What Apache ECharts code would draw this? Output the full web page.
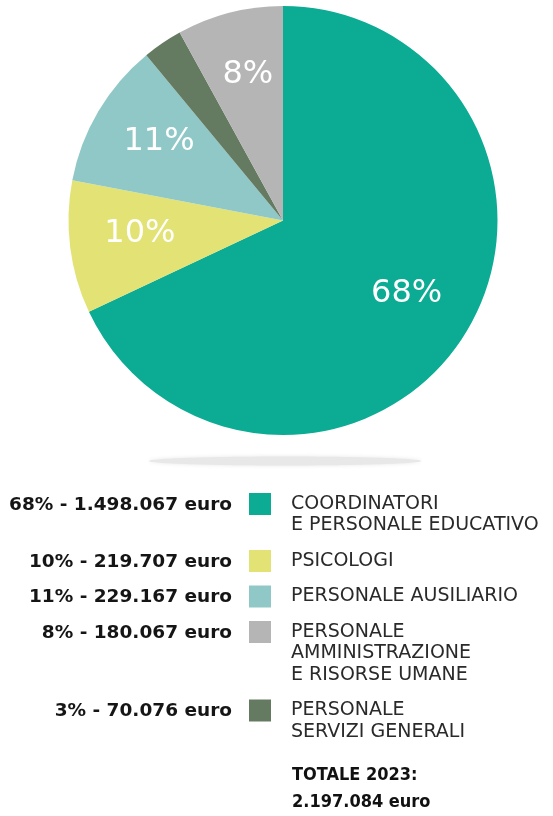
<!DOCTYPE html>
<html>
<head>
<meta charset="utf-8">
<script src="https://cdn.jsdelivr.net/npm/echarts@6/dist/echarts.min.js"></script>
<style>
  html, body { margin: 0; padding: 0; background: #fff; }
  #chart { width: 553px; height: 816px; }
</style>
</head>
<body>
<div id="chart"></div>
<script>
// voci di spesa, in senso orario partendo dall'alto
const categories = [
  "COORDINATORI\nE PERSONALE EDUCATIVO",
  "PSICOLOGI",
  "PERSONALE AUSILIARIO",
  "PERSONALE\nSERVIZI GENERALI",
  "PERSONALE\nAMMINISTRAZIONE\nE RISORSE UMANE"
];
const percentages = [68, 10, 11, 3, 8];
const amounts = ["1.498.067", "219.707", "229.167", "70.076", "180.067"];
const colors = ["#0bab94", "#e2e374", "#8fc8c6", "#647a61", "#b5b5b5"];
// ordine delle righe in legenda
const legendOrder = [0, 1, 2, 4, 3];
const totalLabel = "TOTALE 2023:";
const totalValue = "2.197.084 euro";

const chart = echarts.init(document.getElementById("chart"));

const pieData = categories.map((name, i) => ({
  name: name,
  value: percentages[i],
  itemStyle: { color: colors[i] }
}));

// legenda costruita a mano: importo a sinistra, quadratino, descrizione
const graphics = [
  {
    type: "ellipse",
    shape: { cx: 285, cy: 461, rx: 136, ry: 4.5 },
    style: { fill: "#e8e8e8", shadowBlur: 4, shadowColor: "#e8e8e8" },
    silent: true
  }
];
const lineH = 21.5;
let rowY = 504;
legendOrder.forEach((idx) => {
  const lines = categories[idx].split("\n").length;
  graphics.push({
    type: "text",
    x: 232,
    y: rowY + 1,
    style: {
      text: percentages[idx] + "% - " + amounts[idx] + " euro",
      align: "right",
      verticalAlign: "middle",
      fill: "#151515",
      font: "bold 18.5px 'DejaVu Sans', sans-serif"
    }
  });
  graphics.push({
    type: "rect",
    shape: { x: 249, y: rowY - 11, width: 22, height: 22 },
    style: { fill: colors[idx] }
  });
  graphics.push({
    type: "text",
    x: 291,
    y: rowY - lineH / 2,
    style: {
      text: categories[idx],
      align: "left",
      verticalAlign: "top",
      lineHeight: lineH,
      fill: "#2a2a2a",
      font: "normal 19px 'DejaVu Sans', sans-serif"
    }
  });
  rowY += lines * lineH + 14;
});
graphics.push({
  type: "text",
  x: 292,
  y: 762,
  style: {
    text: totalLabel + "\n" + totalValue,
    align: "left",
    verticalAlign: "top",
    lineHeight: 27,
    fill: "#111",
    font: "bold 18px 'DejaVu Sans Condensed', 'Liberation Sans Narrow', sans-serif"
  }
});

chart.setOption({
  animation: false,
  graphic: graphics,
  series: [
    {
      type: "pie",
      center: [283, 220.5],
      radius: [0, 214.5],
      startAngle: 90,
      clockwise: true,
      silent: true,
      label: { show: false },
      labelLine: { show: false },
      data: pieData
    },
    {
      // anello trasparente solo per posizionare le percentuali
      type: "pie",
      center: [283, 220.5],
      radius: [70, 214.5],
      startAngle: 90,
      clockwise: true,
      silent: true,
      itemStyle: { color: "transparent" },
      label: {
        show: true,
        position: "inside",
        offset: [1, -5],
        color: "#fff",
        fontFamily: "'DejaVu Sans', sans-serif",
        fontWeight: "normal",
        fontSize: 32,
        formatter: (p) => (p.value >= 5 ? p.value + "%" : "")
      },
      labelLine: { show: false },
      data: percentages.map((v, i) => ({ name: categories[i], value: v }))
    }
  ]
});
</script>
</body>
</html>
